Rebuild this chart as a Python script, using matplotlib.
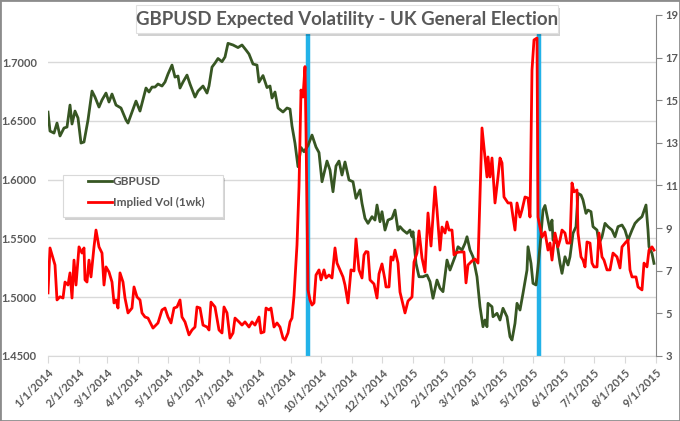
import numpy as np
import pandas as pd
import matplotlib
matplotlib.use('Agg')
import matplotlib.pyplot as plt
from matplotlib.patches import Rectangle
from matplotlib.transforms import offset_copy

plt.rcParams['font.family'] = ['Lato', 'DejaVu Sans']

# days counted from 1/1/2014
start = pd.Timestamp('2014-01-01')

gbp_days = [0, 2, 6, 9, 12, 16, 19, 22, 24, 27, 30, 33, 36, 38, 40, 44, 47, 51, 54, 58,
            61, 64, 68, 73, 78, 80, 84, 88, 92, 98, 101, 104, 107, 110, 114, 117, 120, 124, 127, 130,
            132, 135, 139, 142, 147, 150, 155, 159, 161, 164, 167, 170, 174, 177, 180, 185, 190, 194, 198, 201,
            205, 209, 211, 215, 219, 222, 224, 227, 230, 235, 239, 242, 244, 247, 250, 253, 256, 260, 264, 268,
            271, 274, 279, 282, 285, 288, 291, 294, 297, 301, 305, 308, 312, 314, 317, 320, 324, 327, 329, 332,
            334, 337, 340, 344, 347, 350, 352, 355, 359, 362, 364, 365, 368, 371, 375, 379, 382, 385, 389, 392,
            395, 399, 402, 407, 410, 414, 417, 419, 422, 425, 429, 430, 432, 435, 437, 439, 440, 444, 445, 449,
            452, 455, 459, 462, 464, 467, 469, 472, 475, 479, 480, 483, 485, 488, 490, 492, 495, 497, 500, 502,
            504, 505, 509, 512, 514, 517, 520, 522, 525, 528, 530, 533, 535, 538, 540, 543, 545, 549, 551, 554,
            557, 560, 564, 567, 570, 574, 577, 580, 584, 587, 590, 594, 598, 600, 601, 604, 606]
gbp_vals = [1.6574, 1.6413, 1.6396, 1.6481, 1.6371, 1.6439, 1.6447, 1.6634, 1.6473, 1.6583,
            1.6524, 1.6311, 1.6320, 1.6413, 1.6507, 1.6753, 1.6702, 1.6617, 1.6677, 1.6736,
            1.6660, 1.6728, 1.6634, 1.6609, 1.6507, 1.6481, 1.6575, 1.6668, 1.6583, 1.6779,
            1.6745, 1.6787, 1.6787, 1.6813, 1.6796, 1.6830, 1.6898, 1.6974, 1.6872, 1.6881,
            1.6779, 1.6830, 1.6889, 1.6813, 1.6702, 1.6753, 1.6796, 1.6736, 1.6796, 1.6957,
            1.6991, 1.7030, 1.7003, 1.7043, 1.7159, 1.7145, 1.7123, 1.7145, 1.7102, 1.7068,
            1.6983, 1.6974, 1.6830, 1.6885, 1.6783, 1.6796, 1.6694, 1.6745, 1.6609, 1.6575,
            1.6609, 1.6600, 1.6456, 1.6309, 1.6110, 1.6273, 1.6237, 1.6290, 1.6379, 1.6277,
            1.6230, 1.5982, 1.6158, 1.6082, 1.5897, 1.6116, 1.6158, 1.6039, 1.6150, 1.5997,
            1.5982, 1.5841, 1.5912, 1.5798, 1.5671, 1.5628, 1.5685, 1.5656, 1.5784, 1.5642,
            1.5727, 1.5571, 1.5656, 1.5671, 1.5741, 1.5571, 1.5600, 1.5571, 1.5543, 1.5571,
            1.5514, 1.5557, 1.5288, 1.5174, 1.5174, 1.5189, 1.5132, 1.4991, 1.5146, 1.5076,
            1.5047, 1.5316, 1.5231, 1.5344, 1.5429, 1.5401, 1.5458, 1.5514, 1.5401, 1.5344,
            1.5174, 1.5089, 1.4919, 1.4749, 1.4806, 1.4749, 1.4948, 1.4919, 1.4834, 1.4863,
            1.4806, 1.4906, 1.4834, 1.4664, 1.4636, 1.4778, 1.4948, 1.4891, 1.5033, 1.5231,
            1.5429, 1.5288, 1.5118, 1.5104, 1.5259, 1.5429, 1.5741, 1.5780, 1.5656, 1.5571,
            1.5656, 1.5486, 1.5458, 1.5288, 1.5203, 1.5344, 1.5274, 1.5344, 1.5543, 1.5600,
            1.5883, 1.5869, 1.5827, 1.5713, 1.5741, 1.5727, 1.5600, 1.5571, 1.5458, 1.5514,
            1.5628, 1.5600, 1.5571, 1.5514, 1.5600, 1.5614, 1.5571, 1.5486, 1.5571, 1.5628,
            1.5656, 1.5685, 1.5784, 1.5571, 1.5429, 1.5373, 1.5288]

vol_days = [0, 2, 5, 7, 9, 12, 15, 17, 20, 22, 24, 26, 28, 31, 34, 36, 37, 39, 41, 43,
            46, 48, 51, 54, 56, 58, 61, 64, 66, 68, 70, 72, 75, 77, 80, 84, 86, 89, 92, 94,
            97, 100, 105, 110, 114, 117, 120, 123, 126, 129, 132, 134, 137, 141, 144, 147, 149, 152, 155, 159,
            161, 163, 167, 171, 174, 176, 179, 182, 185, 187, 191, 194, 197, 201, 204, 207, 211, 213, 216, 218,
            221, 223, 226, 229, 232, 235, 237, 240, 242, 244, 246, 249, 251, 253, 255, 257, 258, 260, 262, 264,
            266, 268, 271, 273, 276, 278, 281, 284, 287, 289, 292, 295, 297, 300, 303, 306, 308, 311, 314, 316,
            318, 320, 322, 326, 329, 331, 334, 337, 338, 341, 343, 345, 347, 350, 352, 357, 360, 364, 366, 369,
            371, 374, 377, 380, 383, 387, 389, 392, 394, 397, 399, 401, 404, 406, 409, 412, 416, 418, 420, 424,
            427, 430, 434, 437, 439, 440, 442, 444, 447, 450, 452, 454, 456, 460, 463, 465, 467, 469, 472, 474,
            477, 480, 482, 484, 486, 489, 490, 494, 497, 500, 502, 504, 507, 510, 512, 514, 517, 519, 522, 524,
            526, 529, 530, 533, 535, 537, 539, 542, 544, 546, 549, 551, 554, 556, 559, 562, 565, 569, 572, 574,
            578, 580, 582, 584, 588, 590, 594, 596, 599, 601, 604, 606]
vol_vals = [5.96, 8.07, 7.60, 7.27, 5.63, 5.78, 5.72, 6.47, 6.33, 6.90, 5.72, 7.50, 6.33, 8.12, 7.83, 8.07, 6.57, 6.47, 7.50, 6.71,
            8.12, 8.91, 8.12, 7.83, 6.33, 7.18, 6.94, 6.47, 5.49, 5.63, 5.25, 6.90, 6.47, 5.72, 5.02, 5.25, 6.24, 5.77, 5.63, 5.02,
            4.83, 4.78, 4.31, 4.55, 5.16, 5.25, 4.83, 4.55, 5.25, 5.30, 5.63, 4.83, 4.60, 3.99, 4.22, 4.36, 5.30, 5.25, 4.45, 4.36,
            4.22, 5.53, 5.30, 4.22, 4.08, 5.30, 5.02, 3.84, 4.08, 4.78, 4.60, 4.45, 4.60, 4.36, 4.60, 4.45, 4.83, 4.08, 4.13, 5.25,
            5.16, 5.25, 4.36, 4.55, 4.36, 3.84, 3.75, 4.08, 4.60, 4.78, 5.82, 8.21, 10.93, 15.48, 15.15, 16.58, 13.60, 6.10, 5.63, 5.39,
            5.49, 6.80, 7.04, 6.57, 7.04, 6.66, 6.80, 6.66, 8.07, 7.36, 7.04, 6.71, 6.33, 5.49, 7.04, 6.99, 8.49, 7.04, 6.66, 7.74,
            7.90, 7.88, 6.57, 6.38, 5.72, 6.85, 7.32, 6.57, 6.24, 6.24, 7.65, 7.50, 7.97, 7.36, 6.00, 5.02, 5.58, 5.77, 7.41, 7.83,
            8.87, 7.60, 6.94, 9.71, 8.16, 10.93, 9.85, 7.97, 9.05, 8.77, 9.29, 8.91, 8.91, 7.74, 7.86, 7.88, 7.88, 6.43, 7.27, 7.46,
            7.55, 7.36, 13.70, 12.34, 11.40, 12.34, 11.40, 12.29, 10.18, 11.40, 12.29, 12.06, 10.46, 10.18, 10.18, 9.52, 8.91, 10.18, 9.52, 9.85,
            10.46, 10.41, 9.52, 16.42, 17.83, 17.92, 9.52, 8.58, 8.82, 7.97, 8.30, 7.50, 8.77, 8.12, 8.44, 8.91, 8.77, 8.30, 8.30, 11.12,
            10.70, 10.79, 8.77, 7.65, 7.50, 7.18, 8.35, 8.30, 7.36, 7.18, 7.18, 8.77, 7.65, 7.50, 7.04, 7.04, 7.83, 7.65, 7.13, 8.12,
            8.35, 8.44, 7.04, 6.71, 6.71, 6.24, 6.10, 7.36, 7.18, 7.97, 8.12, 7.97]

event_dates = ['2014-09-18', '2015-05-07']

gbp_ticks = [1.45, 1.50, 1.55, 1.60, 1.65, 1.70]
vol_ticks = [3, 5, 7, 9, 11, 13, 15, 17, 19]
month_labels = ['1/1/2014', '2/1/2014', '3/1/2014', '4/1/2014', '5/1/2014', '6/1/2014',
                '7/1/2014', '8/1/2014', '9/1/2014', '10/1/2014', '11/1/2014', '12/1/2014',
                '1/1/2015', '2/1/2015', '3/1/2015', '4/1/2015', '5/1/2015', '6/1/2015',
                '7/1/2015', '8/1/2015', '9/1/2015']

gbp_dates = start + pd.to_timedelta(gbp_days, unit='D')
vol_dates = start + pd.to_timedelta(vol_days, unit='D')
month_ticks = pd.to_datetime(month_labels, format='%m/%d/%Y')

txt = '#595959'
W, H = 680, 421
fig = plt.figure(figsize=(6.8, 4.21), dpi=100)
ax = fig.add_axes([48 / W, 65 / H, 608 / W, 341 / H])
ax2 = ax.twinx()

# event lines
for d in event_dates:
    ax.axvline(pd.Timestamp(d), color='#22B2E8', lw=3.2, zorder=1)

ln1, = ax.plot(gbp_dates, gbp_vals, color='#375623', lw=2, zorder=3, label='GBPUSD')
ln2, = ax2.plot(vol_dates, vol_vals, color='#FF0000', lw=2, zorder=3, label='Implied Vol (1wk)')

ax.set_xlim(month_ticks[0], month_ticks[-1])
ax.set_ylim(1.45, 1.74)
ax2.set_ylim(3, 19)

ax.set_yticks(gbp_ticks)
ax.set_yticklabels(['%.4f' % v for v in gbp_ticks])
ax.grid(axis='y', color='#D9D9D9', lw=1)
ax.set_axisbelow(True)
ax.set_xticks(month_ticks)
ax.set_xticklabels(month_labels, rotation=45, ha='right', rotation_mode='anchor')
ax2.set_yticks(vol_ticks)

for s in ['left', 'top', 'right']:
    ax.spines[s].set_visible(False)
ax.spines['bottom'].set_color('#D9D9D9')
for s in ['left', 'top', 'bottom']:
    ax2.spines[s].set_visible(False)
ax2.spines['right'].set_color('#868686')

ax.tick_params(axis='y', length=0, pad=8, labelsize=8, labelcolor=txt)
ax.tick_params(axis='x', length=5, color='#D9D9D9', pad=3, labelsize=8, labelcolor=txt)
ax2.tick_params(axis='y', length=4, color='#868686', pad=3, labelsize=8, labelcolor=txt)
for lab in ax.get_xticklabels() + ax.get_yticklabels() + ax2.get_yticklabels():
    lab.set_fontweight('bold')

# legend box with shadow
lx, ly, lw_, lh = (63 - 48) / 608, (356 - 217) / 341, 160 / 608, 42 / 341
sh = Rectangle((lx, ly), lw_, lh, transform=offset_copy(ax2.transAxes, fig, x=2, y=-3, units='dots'),
               facecolor='#000000', alpha=0.18, edgecolor='none', zorder=8, clip_on=False)
box = Rectangle((lx, ly), lw_, lh, transform=ax2.transAxes, facecolor='white',
                edgecolor='#D9D9D9', lw=0.8, zorder=9, clip_on=False)
ax2.add_patch(sh)
ax2.add_patch(box)
leg = ax2.legend([ln1, ln2], ['GBPUSD', 'Implied Vol (1wk)'], loc='upper left',
                 bbox_to_anchor=((88 - 48) / 608, (356 - 176) / 341), frameon=False,
                 borderpad=0, borderaxespad=0, handlelength=2.0, handletextpad=0.1,
                 labelspacing=0.85, prop={'size': 8.5, 'weight': 'bold'})
leg.set_zorder(10)
for t in leg.get_texts():
    t.set_color(txt)

# title box with shadow
tx0, ty0, tw, th = 136 / W, 1 - 33 / H, 422 / W, 28 / H
fig.patches.append(Rectangle((tx0, ty0), tw, th, transform=offset_copy(fig.transFigure, fig, x=2, y=-3, units='dots'),
                             facecolor='#000000', alpha=0.18, edgecolor='none', zorder=20))
fig.patches.append(Rectangle((tx0, ty0), tw, th, transform=fig.transFigure, facecolor='white',
                             edgecolor='#E0E0E0', lw=0.8, zorder=21))
fig.text(tx0 + tw / 2, ty0 + th / 2, 'GBPUSD Expected Volatility - UK General Election',
         ha='center', va='center', fontsize=13.4, fontweight='bold', color=txt, zorder=22)

# chart border
fig.patches.append(Rectangle((0, 0), 1, 1, transform=fig.transFigure, fill=False,
                             edgecolor='#8C8C8C', lw=2, zorder=30))

fig.savefig('out.png', dpi=100)
